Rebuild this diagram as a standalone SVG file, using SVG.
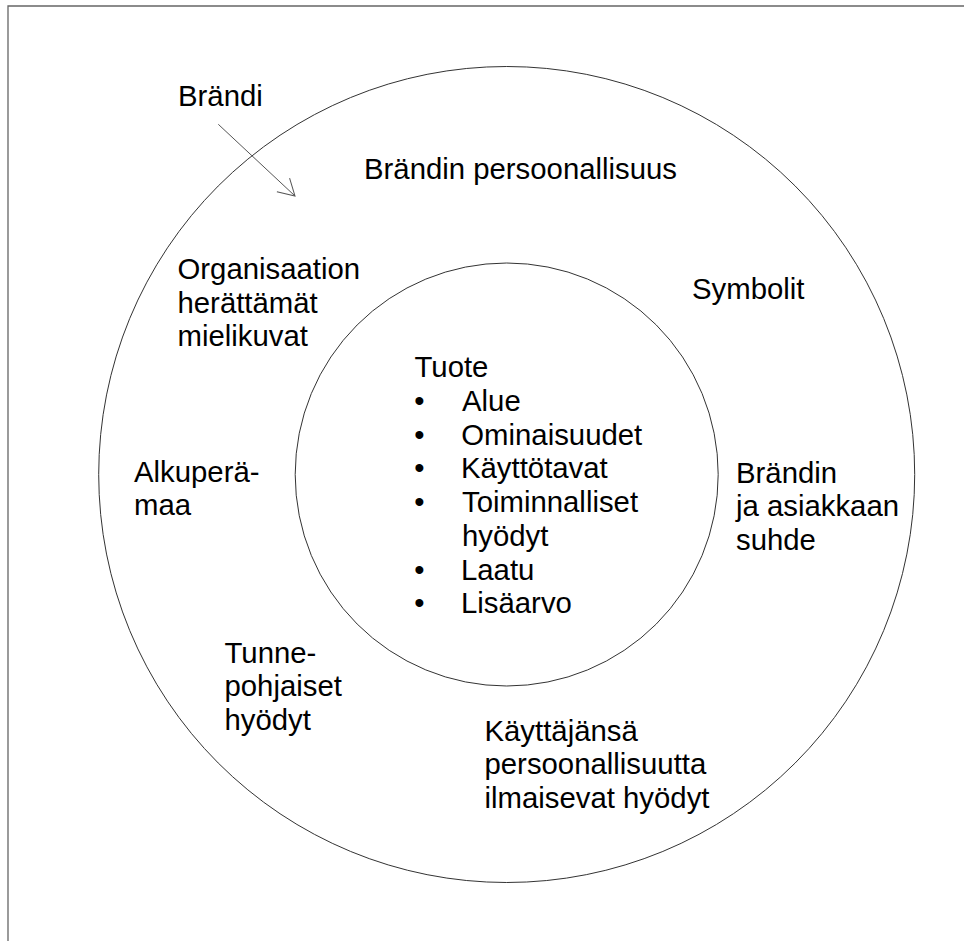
<svg xmlns="http://www.w3.org/2000/svg" width="964" height="941" viewBox="0 0 964 941">
  <defs>
    <style>
      .lbl { font-family: "Liberation Sans", Arial, sans-serif; font-size: 29.33px; fill: #000; }
      .ring { fill: none; stroke: #333; stroke-width: 1; }
      .frame { fill: none; stroke: #666; stroke-width: 1.3; }
      .conn { fill: none; stroke: #555; stroke-width: 1; }
    </style>
    <marker id="open-arrow" markerUnits="userSpaceOnUse" viewBox="-20 -12 24 24" refX="0" refY="0" markerWidth="24" markerHeight="24" orient="auto" overflow="visible">
      <path d="M-16.1,-9.3 L0,0 L-16.1,9.3" fill="none" stroke="#555" stroke-width="1"/>
    </marker>
  </defs>
  <rect width="964" height="941" fill="#fff"/>
  <path class="frame" d="M8,941 V6 H964"/>

  <g id="outer-ring">
    <circle class="ring" cx="506.7" cy="474.5" r="408"/>
  </g>
  <g id="inner-ring">
    <circle class="ring" cx="506.7" cy="474.5" r="211.5"/>
  </g>

  <g id="connectors">
    <line class="conn" x1="218.3" y1="124.3" x2="295" y2="196" marker-end="url(#open-arrow)"/>
  </g>

  <g id="brandi">
    <text class="lbl" x="178" y="106">Brändi</text>
  </g>
  <g id="brandin-persoonallisuus">
    <text class="lbl" x="364" y="179">Brändin persoonallisuus</text>
  </g>
  <g id="organisaatio">
    <text class="lbl" x="177.5" y="279">Organisaation</text>
    <text class="lbl" x="177.5" y="312.7">herättämät</text>
    <text class="lbl" x="177.5" y="346.4">mielikuvat</text>
  </g>
  <g id="symbolit">
    <text class="lbl" x="692" y="299">Symbolit</text>
  </g>
  <g id="alkuperamaa">
    <text class="lbl" x="134" y="481.5">Alkuperä-</text>
    <text class="lbl" x="134" y="515.2">maa</text>
  </g>
  <g id="suhde">
    <text class="lbl" x="736" y="482.5">Brändin</text>
    <text class="lbl" x="736" y="516.2">ja asiakkaan</text>
    <text class="lbl" x="736" y="549.9">suhde</text>
  </g>
  <g id="tunne">
    <text class="lbl" x="224.5" y="662.5">Tunne-</text>
    <text class="lbl" x="224.5" y="696.2">pohjaiset</text>
    <text class="lbl" x="224.5" y="729.9">hyödyt</text>
  </g>
  <g id="kayttaja">
    <text class="lbl" x="484.5" y="740.5">Käyttäjänsä</text>
    <text class="lbl" x="484.5" y="774.2">persoonallisuutta</text>
    <text class="lbl" x="484.5" y="807.9">ilmaisevat hyödyt</text>
  </g>
  <g id="tuote">
    <text class="lbl" x="414.5" y="377.3">Tuote</text>
    <text class="lbl" x="414.2" y="411">•</text>
    <text class="lbl" x="462" y="411">Alue</text>
    <text class="lbl" x="414.2" y="444.7">•</text>
    <text class="lbl" x="461.3" y="444.7">Ominaisuudet</text>
    <text class="lbl" x="414.2" y="478.4">•</text>
    <text class="lbl" x="461" y="478.4">Käyttötavat</text>
    <text class="lbl" x="414.2" y="512.1">•</text>
    <text class="lbl" x="462" y="512.1">Toiminnalliset</text>
    <text class="lbl" x="462" y="545.8">hyödyt</text>
    <text class="lbl" x="414.2" y="579.5">•</text>
    <text class="lbl" x="461" y="579.5">Laatu</text>
    <text class="lbl" x="414.2" y="613.2">•</text>
    <text class="lbl" x="461" y="613.2">Lisäarvo</text>
  </g>
</svg>
